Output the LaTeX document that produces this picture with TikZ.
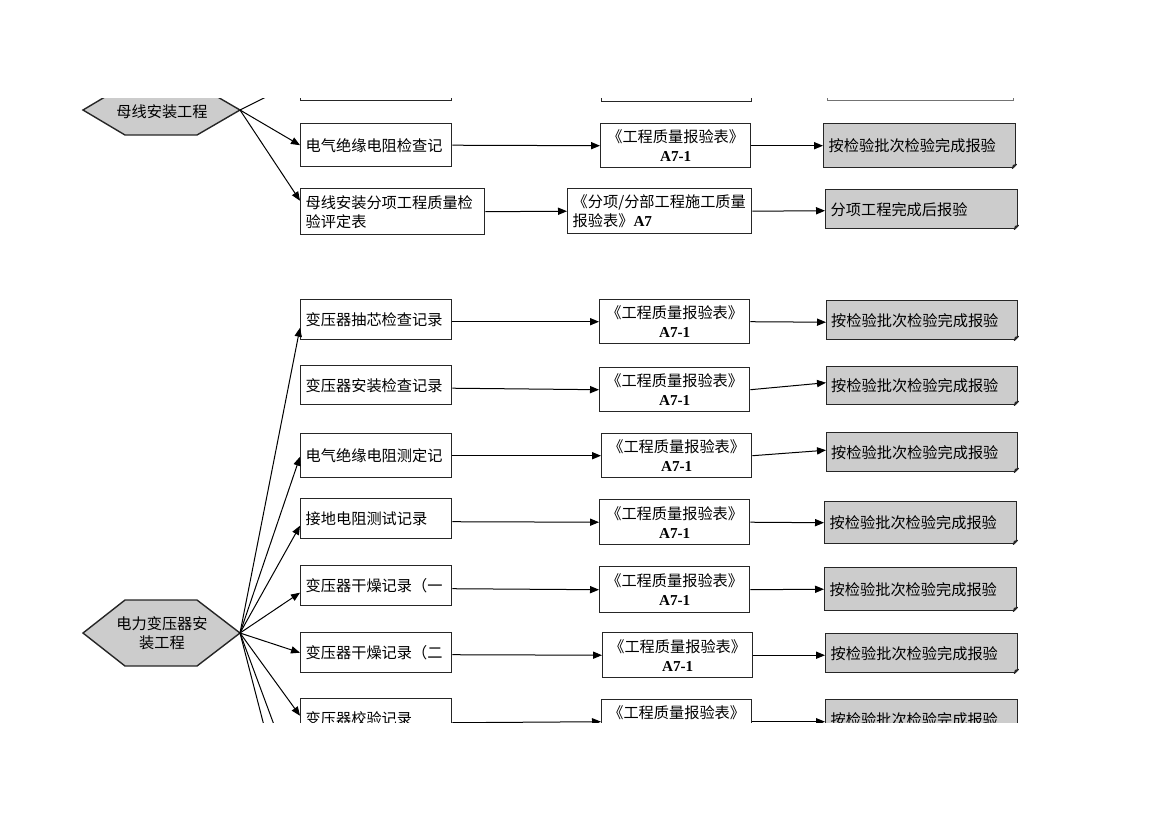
\documentclass[tikz,border=0pt]{standalone}
\usepackage{fontspec}
\setmainfont{Noto Sans CJK SC}
\newfontfamily\lat{Liberation Serif}
\usetikzlibrary{arrows.meta,calc}
\newcommand{\aseven}[1]{{\lat\bfseries #1}}
\begin{document}
\begin{tikzpicture}[x=0.5pt,y=-0.5pt,
  txt/.style={font=\fontsize{7.6}{9.5}\selectfont},
  base/.style={txt, draw=black!85, line width=0.7pt, inner ysep=0pt, inner xsep=2.5pt, anchor=north west, fill=white},
  lbox/.style={base, align=left, minimum width=75.5pt, text width=70.5pt},
  mbox/.style={base, align=center, minimum width=75pt},
  rbox/.style={base, align=left, fill=black!20, minimum width=96pt, text width=91pt, inner xsep=1.8pt},
  hexa/.style={draw=black!85, line width=0.7pt, fill=black!20},
  conn/.style={draw=black, line width=0.5pt, -{Triangle[length=4.5pt,width=3.6pt]}},
  line/.style={draw=black, line width=0.5pt}
]
\useasboundingbox (0,0) rectangle (1170,827);
\newcommand{\fold}[1]{%
  \fill[white] ($(#1.south east)+(0.8,0.8)$) -- ($(#1.south east)+(-4,0.8)$) -- ($(#1.south east)+(0.8,-4)$) -- cycle;
  \draw[black!85,line width=0.6pt,fill=black!60,line join=round] ($(#1.south east)+(-4,0)$) -- ($(#1.south east)+(0,-4)$) -- ($(#1.south east)+(-3,-3)$) -- cycle;}
\begin{scope}
\clip (0,98.5) rectangle (1170,722.5);
% clipped boxes above
\node[base, minimum width=75.5pt, minimum height=20pt] (t1) at (300,60) {};
\node[base, minimum width=75pt, minimum height=20.5pt] (t2) at (601,60) {};
\node[base, draw=black!55, minimum width=93pt, minimum height=20pt] (t3) at (827,60) {};
% top hexagon
\draw[hexa] (83,110) -- (125,85) -- (197,85) -- (240,110) -- (197,135) -- (125,135) -- cycle;
\node[txt] (h1) at (162,112) {母线安装工程};
\coordinate (h1v) at (240,110);
\coordinate (u1) at (284,88);
\draw[line] (h1v) -- (u1);
% top section
\node[lbox, minimum height=21.5pt] (a1) at (300,123) {电气绝缘电阻检查记};
\node[lbox, minimum width=92pt, text width=87pt, minimum height=23pt] (a2) at (300,188) {母线安装分项工程质量检\\验评定表};
\node[mbox, minimum height=22pt] (am1) at (600,123) {《工程质量报验表》\\\aseven{A7-1}};
\node[base, align=left, minimum width=92pt, text width=87pt, minimum height=22.5pt] (am2) at (567,188) {《分项/分部工程施工质量\\报验表》\aseven{A7}};
\node[rbox, minimum height=22pt] (ar1) at (823,123) {按检验批次检验完成报验};
\node[rbox, minimum height=19.5pt] (ar2) at (825,189) {分项工程完成后报验};
\fold{ar1}\fold{ar2}
\draw[conn] (h1v) -- (a1.west);
\draw[conn] (h1v) -- ($(a2.west)+(0,-11)$);
\draw[conn] (a1.east) -- (am1.west);
\draw[conn] (a2.east) -- (am2.west);
\draw[conn] (am1.east) -- (ar1.west);
\draw[conn] (am2.east) -- ($(ar2.west)+(0,1.5)$);
% lower hexagon
\draw[hexa] (83,633) -- (125,600) -- (197,600) -- (240,633) -- (197,666) -- (125,666) -- cycle;
\node[txt, align=center] (h2) at (162,633) {电力变压器安\\装工程};
\coordinate (h2v) at (240,633);
\coordinate (d1) at (291,830);
\coordinate (d2) at (313,830);
% left column
\node[lbox, minimum height=20pt] (b1) at (300,299) {变压器抽芯检查记录};
\node[lbox, minimum height=19.5pt] (b2) at (300,365) {变压器安装检查记录};
\node[lbox, minimum height=22pt] (b3) at (300,433) {电气绝缘电阻测定记};
\node[lbox, minimum height=20pt] (b4) at (300,498) {接地电阻测试记录};
\node[lbox, minimum height=20pt] (b5) at (300,565) {变压器干燥记录（一};
\node[lbox, minimum height=20pt] (b6) at (300,632) {变压器干燥记录（二};
\node[lbox, minimum height=20pt] (b7) at (300,698) {变压器校验记录};
% middle column
\node[mbox, minimum height=22pt] (m1) at (599,299) {《工程质量报验表》\\\aseven{A7-1}};
\node[mbox, minimum height=22pt] (m2) at (599,367) {《工程质量报验表》\\\aseven{A7-1}};
\node[mbox, minimum height=22pt] (m3) at (601,433) {《工程质量报验表》\\\aseven{A7-1}};
\node[mbox, minimum height=22.5pt] (m4) at (599,499) {《工程质量报验表》\\\aseven{A7-1}};
\node[mbox, minimum height=23pt] (m5) at (599,566) {《工程质量报验表》\\\aseven{A7-1}};
\node[mbox, minimum height=22.5pt] (m6) at (602,632) {《工程质量报验表》\\\aseven{A7-1}};
\node[mbox, minimum height=22pt] (m7) at (601,699) {《工程质量报验表》\\\aseven{A7-1}};
% right column
\node[rbox, minimum width=95.5pt, minimum height=19.5pt] (r1) at (826,300) {按检验批次检验完成报验};
\node[rbox, minimum width=95.5pt, minimum height=19pt] (r2) at (826,366) {按检验批次检验完成报验};
\node[rbox, minimum width=95.5pt, minimum height=19.5pt] (r3) at (826,432) {按检验批次检验完成报验};
\node[rbox, minimum height=21pt] (r4) at (824,501) {按检验批次检验完成报验};
\node[rbox, minimum height=21.5pt] (r5) at (824,567) {按检验批次检验完成报验};
\node[rbox, minimum height=19.5pt] (r6) at (825,633) {按检验批次检验完成报验};
\node[rbox, minimum height=20pt] (r7) at (825,699) {按检验批次检验完成报验};
\fold{r1}\fold{r2}\fold{r3}\fold{r4}\fold{r5}\fold{r6}\fold{r7}
% fan from lower hexagon
\draw[conn] (h2v) -- ($(b1.west)+(0,8)$);
\draw[conn] (h2v) -- ($(b3.west)+(0,1)$);
\draw[conn] (h2v) -- ($(b4.west)+(0,7)$);
\draw[conn] (h2v) -- ($(b5.west)+(0,7)$);
\draw[conn] (h2v) -- (b6.west);
\draw[conn] (h2v) -- ($(b7.west)+(0,-3)$);
\draw[line] (h2v) -- (d1);
\draw[line] (h2v) -- (d2);
% rows
\draw[conn] ($(b1.east)+(0,2)$) -- (m1.west);
\draw[conn] ($(b2.east)+(0,3)$) -- (m2.west);
\draw[conn] (b3.east) -- (m3.west);
\draw[conn] ($(b4.east)+(0,3)$) -- (m4.west);
\draw[conn] ($(b5.east)+(0,3)$) -- (m5.west);
\draw[conn] ($(b6.east)+(0,2)$) -- (m6.west);
\draw[conn] ($(b7.east)+(0,4)$) -- (m7.west);
\draw[conn] (m1.east) -- ($(r1.west)+(0,2)$);
\draw[conn] (m2.east) -- ($(r2.west)+(0,-3)$);
\draw[conn] (m3.east) -- ($(r3.west)+(0,-2)$);
\draw[conn] (m4.east) -- (r4.west);
\draw[conn] (m5.east) -- (r5.west);
\draw[conn] (m6.east) -- ($(r6.west)+(0,2)$);
\draw[conn] (m7.east) -- ($(r7.west)+(0,2)$);
\end{scope}
\end{tikzpicture}
\end{document}
